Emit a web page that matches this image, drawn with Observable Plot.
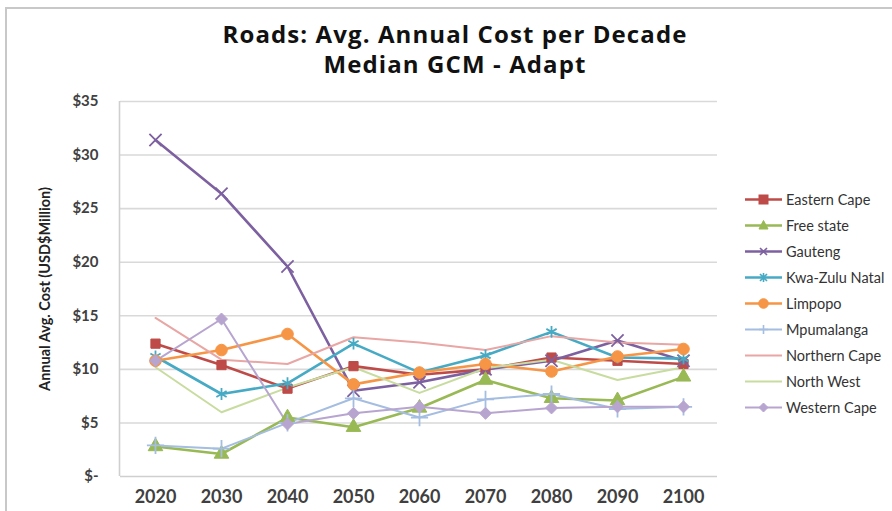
<!DOCTYPE html>
<html>
<head>
<meta charset="utf-8">
<script src="https://cdn.jsdelivr.net/npm/d3@7"></script>
<script src="https://cdn.jsdelivr.net/npm/@observablehq/plot@0.6"></script>
<style>
  html, body { margin: 0; padding: 0; background: #fff; }
  #wrap { position: relative; width: 892px; height: 511px; overflow: hidden; background: #fff; }
  #frame { position: absolute; left: 5px; top: 7px; width: 900px; height: 520px; border-left: 2px solid #c8c8c8; border-top: 2px solid #c8c8c8; }
  #title { position: absolute; left: 0; top: 19px; width: 910px; text-align: center; font-family: "Open Sans", sans-serif; font-weight: bold; font-size: 24px; letter-spacing: 1.1px; line-height: 30px; color: #111; }
  #chart { position: absolute; left: 0; top: 0; }
  #legend { position: absolute; left: 745px; top: 186px; font-family: Lato, sans-serif; font-size: 14.5px; color: #333; }
  .item { height: 26.1px; display: flex; align-items: center; white-space: nowrap; }
  .item svg { margin-right: 3px; }
</style>
</head>
<body>
<div id="wrap">
  <div id="frame"></div>
  <div id="chart"></div>
  <div id="title">Roads: Avg. Annual Cost per Decade<br>Median GCM - Adapt</div>
  <div id="legend"></div>
</div>
<script>
const years = ["2020","2030","2040","2050","2060","2070","2080","2090","2100"];
const seriesNames = ["Eastern Cape","Free state","Gauteng","Kwa-Zulu Natal","Limpopo","Mpumalanga","Northern Cape","North West","Western Cape"];
const easternCape  = [12.4, 10.4, 8.2, 10.3, 9.5, 10.0, 11.1, 10.8, 10.5];
const freeState    = [2.8, 2.1, 5.5, 4.6, 6.4, 9.0, 7.3, 7.1, 9.3];
const gauteng      = [31.4, 26.4, 19.6, 8.0, 8.8, 10.0, 10.8, 12.7, 10.8];
const kwaZuluNatal = [11.2, 7.7, 8.7, 12.4, 9.7, 11.3, 13.5, 11.1, 11.0];
const limpopo      = [10.8, 11.8, 13.3, 8.6, 9.7, 10.5, 9.8, 11.2, 11.9];
const mpumalanga   = [2.9, 2.6, 5.0, 7.3, 5.5, 7.2, 7.7, 6.3, 6.5];
const northernCape = [14.8, 10.9, 10.5, 13.0, 12.5, 11.8, 13.1, 12.5, 12.3];
const northWest    = [10.2, 6.0, 8.3, 10.2, 7.8, 10.1, 10.9, 9.0, 10.2];
const westernCape  = [10.8, 14.7, 4.9, 5.9, 6.5, 5.9, 6.4, 6.5, 6.5];
const yTicks = [0, 5, 10, 15, 20, 25, 30, 35];
const yTickLabels = ["$-", "$5", "$10", "$15", "$20", "$25", "$30", "$35"];

const values = [easternCape, freeState, gauteng, kwaZuluNatal, limpopo, mpumalanga, northernCape, northWest, westernCape];
const colors = ["#be4b48", "#98b954", "#7d60a0", "#46aac4", "#f69545", "#a4bde0", "#e8a6a4", "#c8dca0", "#b7a5d0"];
const widths = [2.6, 2.6, 2.6, 2.6, 2.6, 2, 2, 2, 2];
const symbols = ["square", "triangle", "times", "asterisk", "circle", "plus", null, null, "diamond2"];
const filled = [true, true, false, false, true, false, false, false, true];
const radii = [5.2, 5.4, 5.6, 5.6, 5.8, 5.6, 0, 0, 5.4];

const data = [];
seriesNames.forEach((s, i) => years.forEach((y, j) => data.push({series: s, year: y, value: values[i][j], idx: i})));

const marksLines = [];
seriesNames.forEach((s, i) => {
  const d = data.filter(r => r.idx === i);
  marksLines.push(Plot.line(d, {x: "year", y: "value", stroke: colors[i], strokeWidth: widths[i], curve: "linear"}));
});
seriesNames.forEach((s, i) => {
  const d = data.filter(r => r.idx === i);
  if (symbols[i]) {
    marksLines.push(Plot.dot(d, {x: "year", y: "value", symbol: () => symbols[i], r: radii[i],
      fill: filled[i] ? colors[i] : "none", stroke: colors[i], strokeWidth: filled[i] ? 1 : 1.8}));
  }
});

const plot = Plot.plot({
  width: 892,
  height: 511,
  marginTop: 101,
  marginBottom: 35,
  marginLeft: 120,
  marginRight: 175,
  style: {background: "transparent", fontFamily: "Lato, sans-serif"},
  x: {type: "point", domain: years, padding: 0.5, label: null},
  y: {domain: [0, 35], label: null},
  marks: [
    Plot.ruleY(yTicks.filter(d => d > 0), {stroke: "#d9d9d9", strokeWidth: 1.6}),
    Plot.ruleY([0], {stroke: "#cfcfcf", strokeWidth: 1.6}),
    Plot.axisX({tickSize: 0, tickPadding: 14, fontSize: 18, fontWeight: "bold", fill: "#404040"}),
    Plot.axisY({ticks: yTicks, tickSize: 0, tickPadding: 22, fontSize: 15, fontWeight: "bold", fill: "#404040", tickFormat: (d) => yTickLabels[yTicks.indexOf(d)]}),
    Plot.axisY({ticks: [], label: "Annual Avg. Cost (USD$Million)", labelAnchor: "center", labelArrow: "none", labelOffset: 81, fontSize: 14.5, fontWeight: "bold", fill: "#222"}),
    ...marksLines
  ]
});
// left edge of plot area
const svg = d3.select(plot);
svg.append("line").attr("x1", 119.5).attr("x2", 119.5).attr("y1", 101).attr("y2", 476).attr("stroke", "#cfcfcf").attr("stroke-width", 1.6);
document.getElementById("chart").appendChild(plot);

// legend
const leg = document.getElementById("legend");
const symPath = {
  square: '<rect x="14" y="5" width="9" height="9" />',
  triangle: '<path d="M18.5 4.5 L23 13 L14 13 Z" />',
  times: '<path d="M15 6 L22 13 M22 6 L15 13" fill="none" stroke-width="1.6"/>',
  asterisk: '<path d="M15 6 L22 13 M22 6 L15 13 M18.5 5 L18.5 14" fill="none" stroke-width="1.6"/>',
  circle: '<circle cx="18.5" cy="9.5" r="4.8" />',
  plus: '<path d="M18.5 5 L18.5 14 M14 9.5 L23 9.5" fill="none" stroke-width="1.6"/>',
  diamond2: '<path d="M18.5 5 L23 9.5 L18.5 14 L14 9.5 Z" />'
};
seriesNames.forEach((s, i) => {
  const div = document.createElement("div");
  div.className = "item";
  const sym = symbols[i] ? symPath[symbols[i]] : "";
  div.innerHTML = `<svg width="38" height="19"><line x1="0" x2="37" y1="9.5" y2="9.5" stroke="${colors[i]}" stroke-width="${widths[i]}"/>` +
    `<g fill="${colors[i]}" stroke="${colors[i]}">${sym}</g></svg><span>${s}</span>`;
  leg.appendChild(div);
});
</script>
</body>
</html>
